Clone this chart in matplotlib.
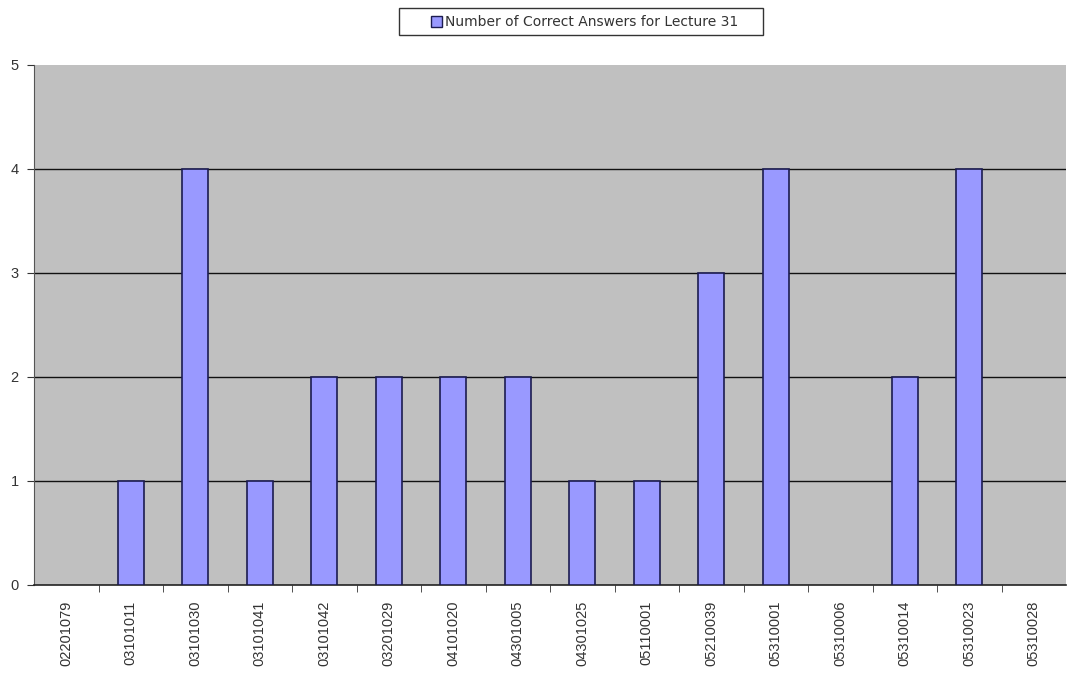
import matplotlib
matplotlib.use("Agg")
import matplotlib.pyplot as plt
from matplotlib.patches import Rectangle

students = ["02201079", "03101011", "03101030", "03101041", "03101042", "03201029",
            "04101020", "04301005", "04301025", "05110001", "05210039", "05310001",
            "05310006", "05310014", "05310023", "05310028"]
correct = [0, 1, 4, 1, 2, 2, 2, 2, 1, 1, 3, 4, 0, 2, 4, 0]
series_name = "Number of Correct Answers for Lecture 31"

plt.rcParams["font.family"] = ["Liberation Sans", "DejaVu Sans"]

BAR_FACE = "#9999FF"
BAR_EDGE = "#1C1C50"

fig = plt.figure(figsize=(10.68, 6.73), dpi=100)
W, H = 1068, 673
ax = fig.add_axes([34 / W, (H - 585) / H, (1066 - 34) / W, (585 - 65) / H])
ax.set_facecolor("#C0C0C0")

x = list(range(len(students)))
bars = ax.bar(x, correct, width=0.4, color=BAR_FACE, edgecolor=BAR_EDGE,
              linewidth=1.2, zorder=3)
for b, v in zip(bars, correct):
    if v == 0:
        b.set_visible(False)

ax.set_xlim(-0.5, len(students) - 0.5)
ax.set_ylim(0, 5)
ax.set_yticks([0, 1, 2, 3, 4, 5])
ax.set_yticklabels(["0", "1", "2", "3", "4", "5"], fontsize=10.5, color="#333333")
for yv in [1, 2, 3, 4]:
    ax.axhline(yv, color="#111111", linewidth=1.0, zorder=2)

ax.set_xticks(x)
ax.set_xticklabels(students, rotation=90, fontsize=10.5, color="#333333")
ax.tick_params(axis="x", length=0, pad=11)
ax.set_xticks([i + 0.5 for i in range(len(students) - 1)], minor=True)
ax.tick_params(axis="x", which="minor", length=5, direction="out", color="#333333")
ax.tick_params(axis="y", length=5, direction="out", color="#333333", pad=6)

for side in ["top", "right"]:
    ax.spines[side].set_visible(False)
ax.spines["left"].set_color("#555555")
ax.spines["bottom"].set_color("#222222")
ax.spines["bottom"].set_linewidth(1.2)

# Series key box above the plot
def fx(px):
    return px / W

def fy(py):
    return 1 - py / H

fig.patches.append(Rectangle((fx(399), fy(35)), fx(763) - fx(399), fy(8) - fy(35),
                             transform=fig.transFigure, facecolor="white",
                             edgecolor="#333333", linewidth=1.0))
fig.patches.append(Rectangle((fx(431), fy(27)), fx(442) - fx(431), fy(16) - fy(27),
                             transform=fig.transFigure, facecolor=BAR_FACE,
                             edgecolor=BAR_EDGE, linewidth=1.0))
fig.text(fx(445), fy(21.5), series_name, family="DejaVu Sans", fontsize=10,
         color="#333333", ha="left", va="center")

fig.savefig("out.png", dpi=100)
